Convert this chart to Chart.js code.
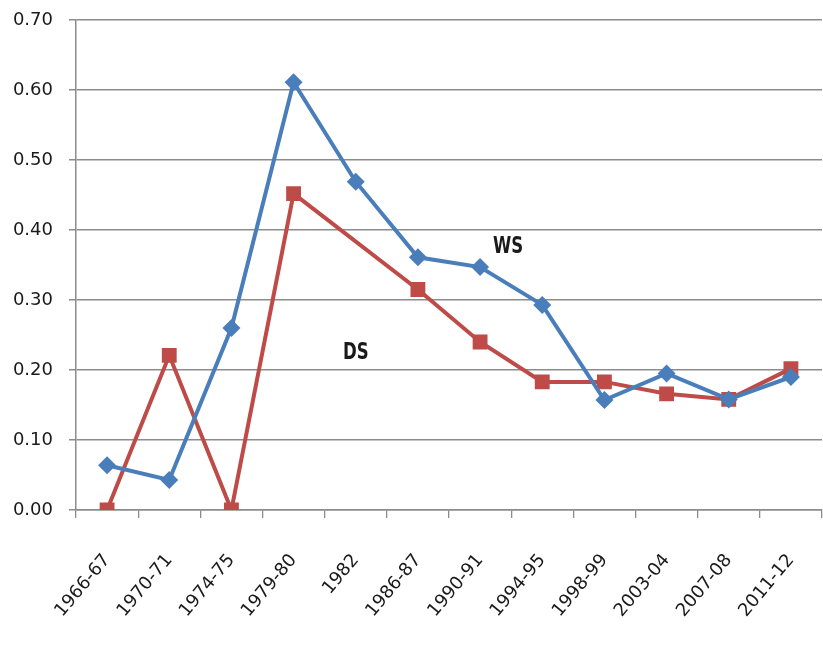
<!DOCTYPE html>
<html>
<head>
<meta charset="utf-8">
<script src="https://cdn.jsdelivr.net/npm/chart.js@4/dist/chart.umd.min.js"></script>
<style>
  html, body { margin: 0; padding: 0; background: #fff; }
  #wrap { width: 823px; height: 653px; }
</style>
</head>
<body>
<div id="wrap"><canvas id="myChart" width="823" height="653"></canvas></div>
<script>
const years = ["1966-67", "1970-71", "1974-75", "1979-80", "1982", "1986-87",
  "1990-91", "1994-95", "1998-99", "2003-04", "2007-08", "2011-12"];
const wsValues = [0.064, 0.043, 0.26, 0.611, 0.469, 0.361, 0.347, 0.293, 0.157, 0.195, 0.158, 0.19];
const dsValues = [0.0, 0.221, 0.0, 0.452, null, 0.315, 0.24, 0.183, 0.183, 0.166, 0.158, 0.202];
const yTicks = [0, 0.1, 0.2, 0.3, 0.4, 0.5, 0.6, 0.7];

// series name labels inside the plot (category index, value)
const seriesLabels = [
  { text: "WS", x: 6.45, y: 0.376 },
  { text: "DS", x: 4.0, y: 0.224 },
];

const FONT = "'DejaVu Sans', sans-serif";

const textLabels = {
  id: "textLabels",
  afterDatasetsDraw(chart) {
    const ctx = chart.ctx;
    const xs = chart.scales.x;
    const ys = chart.scales.y;
    ctx.save();
    ctx.font = "bold 23px " + FONT;
    ctx.fillStyle = "#1a1a1a";
    ctx.textAlign = "center";
    ctx.textBaseline = "middle";
    seriesLabels.forEach((l) => {
      ctx.save();
      ctx.translate(xs.getPixelForValue(l.x), ys.getPixelForValue(l.y));
      ctx.scale(0.72, 1); // narrow lettering like the original
      ctx.fillText(l.text, 0, 0);
      ctx.restore();
    });
    ctx.restore();
  },
};

// no automatic label overflow padding, so the plot box stays where it is
function noPad(s) {
  s.paddingTop = 0;
  s.paddingBottom = 0;
  s.paddingLeft = 0;
  s.paddingRight = 0;
}

new Chart(document.getElementById("myChart"), {
  type: "line",
  data: {
    labels: years,
    datasets: [
      {
        label: "WS",
        data: wsValues,
        borderColor: "#4a7ebb",
        backgroundColor: "#4a7ebb",
        borderWidth: 4,
        pointStyle: "rectRot",
        pointRadius: 9,
        pointBorderWidth: 0,
        tension: 0,
      },
      {
        label: "DS",
        data: dsValues,
        borderColor: "#be4b48",
        backgroundColor: "#be4b48",
        borderWidth: 4,
        pointStyle: "rect",
        pointRadius: 10.5,
        pointBorderWidth: 0,
        spanGaps: true,
        tension: 0,
      },
    ],
  },
  options: {
    responsive: false,
    animation: false,
    layout: { autoPadding: false, padding: { top: 20, right: 1, left: 0, bottom: 0 } },
    plugins: { legend: { display: false }, tooltip: { enabled: false } },
    scales: {
      x: {
        offset: true,
        grid: {
          offset: true,
          drawOnChartArea: false,
          drawTicks: true,
          tickLength: 8,
          color: "#8c8c8c",
          lineWidth: 1.3,
        },
        border: { color: "#8c8c8c", width: 1.5 },
        ticks: {
          autoSkip: false,
          maxRotation: 50,
          minRotation: 50,
          padding: 32,
          color: "#1a1a1a",
          font: { family: FONT, size: 18 },
        },
        afterFit: (s) => { s.height = 143; noPad(s); },
      },
      y: {
        min: 0,
        max: 0.7,
        afterBuildTicks: (s) => { s.ticks = yTicks.map((v) => ({ value: v })); },
        grid: { color: "#8c8c8c", lineWidth: 1.5, tickLength: 7 },
        border: { color: "#8c8c8c", width: 1.5 },
        ticks: {
          padding: 16,
          color: "#1a1a1a",
          font: { family: FONT, size: 18 },
          callback: (v) => Number(v).toFixed(2),
        },
        afterFit: (s) => { s.width = 76; noPad(s); },
      },
    },
  },
  plugins: [textLabels],
});
</script>
</body>
</html>
